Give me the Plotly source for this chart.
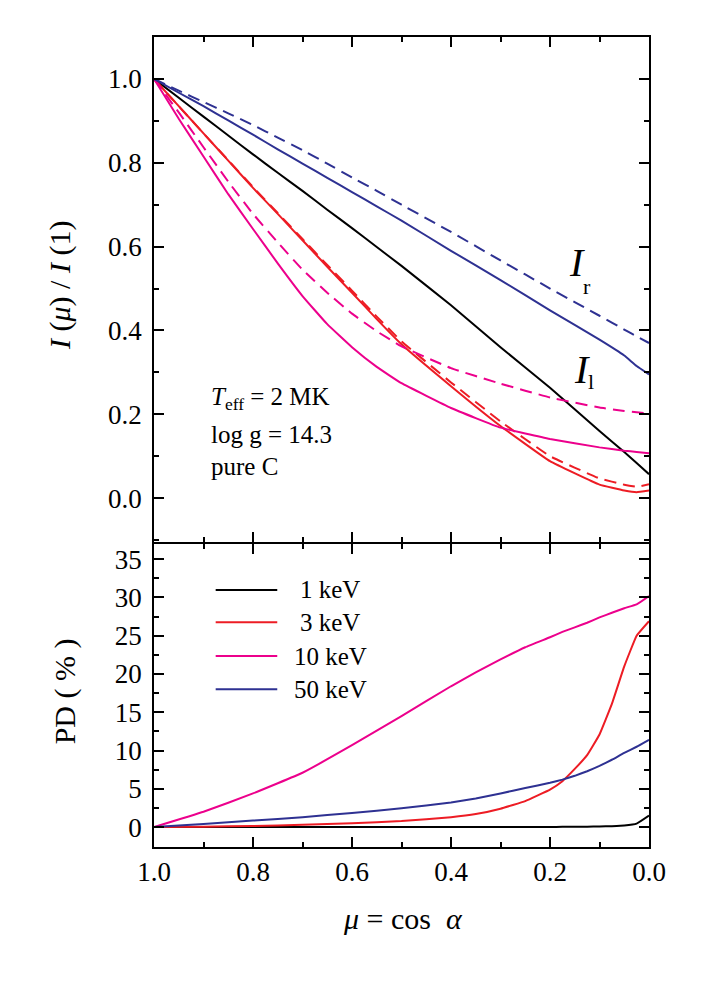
import plotly.graph_objects as go

# ---------------- data ----------------
mu_top = [1.0, 0.95, 0.9, 0.85, 0.8, 0.75, 0.7, 0.65, 0.6, 0.55, 0.5, 0.4, 0.3, 0.2, 0.1, 0.05, 0.025, 0.0]

I_1keV = [1.0, 0.955, 0.91, 0.865, 0.82, 0.776, 0.733, 0.688, 0.644, 0.599, 0.554, 0.46, 0.36, 0.263, 0.16, 0.11, 0.084, 0.057]
Il_3keV = [1.0, 0.935, 0.87, 0.805, 0.74, 0.678, 0.615, 0.552, 0.49, 0.427, 0.367, 0.267, 0.172, 0.088, 0.032, 0.018, 0.014, 0.018]
Ir_3keV = [1.0, 0.935, 0.87, 0.806, 0.742, 0.68, 0.618, 0.556, 0.495, 0.433, 0.374, 0.276, 0.183, 0.10, 0.047, 0.032, 0.027, 0.033]
Il_10keV = [1.0, 0.905, 0.815, 0.725, 0.642, 0.56, 0.482, 0.415, 0.36, 0.313, 0.274, 0.215, 0.168, 0.141, 0.121, 0.113, 0.11, 0.107]
Ir_10keV = [1.0, 0.92, 0.837, 0.755, 0.678, 0.61, 0.545, 0.49, 0.44, 0.398, 0.362, 0.31, 0.273, 0.24, 0.216, 0.208, 0.205, 0.202]
Il_50keV = [1.0, 0.967, 0.935, 0.901, 0.867, 0.832, 0.798, 0.764, 0.73, 0.696, 0.662, 0.59, 0.52, 0.448, 0.378, 0.34, 0.315, 0.295]
Ir_50keV = [1.0, 0.972, 0.945, 0.918, 0.89, 0.86, 0.83, 0.798, 0.765, 0.733, 0.70, 0.635, 0.567, 0.50, 0.435, 0.402, 0.386, 0.37]

mu_pd = [1.0, 0.9, 0.8, 0.7, 0.6, 0.5, 0.4, 0.35, 0.3, 0.25, 0.2, 0.175, 0.15, 0.125, 0.1, 0.075, 0.05, 0.025, 0.0]
PD_1keV = [0, 0, 0, 0, 0, 0, 0, 0, 0.01, 0.01, 0.02, 0.03, 0.04, 0.06, 0.08, 0.12, 0.2, 0.45, 1.5]
PD_3keV = [0, 0.05, 0.15, 0.3, 0.5, 0.8, 1.3, 1.7, 2.4, 3.4, 4.9, 6.0, 7.6, 9.4, 12.1, 16.1, 21.0, 25.0, 26.9]
PD_10keV = [0, 2.0, 4.4, 7.1, 10.7, 14.5, 18.4, 20.2, 21.9, 23.5, 24.8, 25.5, 26.1, 26.7, 27.4, 28.0, 28.6, 29.1, 30.2]
PD_50keV = [0, 0.4, 0.85, 1.3, 1.85, 2.45, 3.2, 3.75, 4.4, 5.1, 5.8, 6.2, 6.7, 7.3, 8.0, 8.8, 9.7, 10.5, 11.4]

energies = ["1 keV", "3 keV", "10 keV", "50 keV"]
colors = ["#000000", "#ED1C24", "#EC008C", "#2E3192"]

FONT = "Liberation Serif, Times New Roman, serif"
LW = 2.0
DASH = "12px,7px"

fig = go.Figure()

# top panel curves (x2, y2)
top_series = [
    (I_1keV, colors[0], "solid"),
    (Ir_3keV, colors[1], DASH),
    (Il_3keV, colors[1], "solid"),
    (Ir_10keV, colors[2], DASH),
    (Il_10keV, colors[2], "solid"),
    (Ir_50keV, colors[3], DASH),
    (Il_50keV, colors[3], "solid"),
]
for ys, c, d in top_series:
    fig.add_trace(go.Scatter(x=mu_top, y=ys, mode="lines", xaxis="x2", yaxis="y2",
                             line=dict(color=c, width=LW, dash=d, shape="spline", smoothing=0.3),
                             showlegend=False, hoverinfo="skip"))

# bottom panel curves
for ys, c in zip([PD_1keV, PD_3keV, PD_10keV, PD_50keV], colors):
    fig.add_trace(go.Scatter(x=mu_pd, y=ys, mode="lines", xaxis="x", yaxis="y",
                             line=dict(color=c, width=LW, shape="spline", smoothing=0.3),
                             showlegend=False, hoverinfo="skip"))

axis_common = dict(showline=True, linecolor="black", linewidth=1.8, mirror="allticks",
                   ticks="inside", ticklen=10, tickwidth=2, tickcolor="black",
                   showgrid=False, zeroline=False, tickmode="linear",
                   tickfont=dict(family=FONT, size=27, color="black"))

def minor(dt):
    return dict(ticks="inside", ticklen=5, tickwidth=2, tickcolor="black", dtick=dt, tick0=0, showgrid=False)

H_PLOT = 810.0
split = 0.3753
half = 0.9 / H_PLOT
fig.update_layout(
    width=698, height=973,
    margin=dict(l=146, r=57, t=29, b=134),
    plot_bgcolor="white", paper_bgcolor="white",
    xaxis=dict(domain=[0, 1], anchor="y", range=[1, 0], tick0=0, dtick=0.2, tickformat=".1f",
               minor=minor(0.1), **axis_common),
    xaxis2=dict(domain=[0, 1], anchor="y2", range=[1, 0], matches="x", tick0=0, dtick=0.2,
                showticklabels=False, minor=minor(0.1), **axis_common),
    yaxis=dict(domain=[0, split - half], anchor="x", range=[-2.6, 37], tick0=0, dtick=5,
               ticklabelstandoff=5, minor=minor(2.5), **axis_common),
    yaxis2=dict(domain=[split + half, 1], anchor="x2", range=[-0.105, 1.1], tick0=0, dtick=0.2,
                tickformat=".1f", ticklabelstandoff=5, minor=minor(0.1), **axis_common),
    showlegend=False,
)

ann = []
def A(**kw):
    base = dict(showarrow=False, font=dict(family=FONT, size=25, color="black"))
    base.update(kw)
    ann.append(base)

# axis titles
A(text="<i>μ</i> = cos  <i>α</i>", xref="paper", yref="paper", x=0.503, y=-0.0877,
  xanchor="center", yanchor="middle", font=dict(family=FONT, size=30, color="black"))
A(text="<i>I</i> (<i>μ</i>) / <i>I</i> (1)", xref="paper", yref="paper", x=-0.19, y=0.6938,
  xanchor="center", yanchor="middle", textangle=-90, font=dict(family=FONT, size=30, color="black"))
A(text="PD ( % )", xref="paper", yref="paper", x=-0.178, y=0.192,
  xanchor="center", yanchor="middle", textangle=-90, font=dict(family=FONT, size=30, color="black"))

# parameter block
A(text="<i>T</i><sub>eff</sub> = 2 MK", xref="x2", yref="y2", x=0.889, y=0.238, xanchor="left", yanchor="middle")
A(text="log g = 14.3", xref="x2", yref="y2", x=0.889, y=0.152, xanchor="left", yanchor="middle")
A(text="pure C", xref="x2", yref="y2", x=0.889, y=0.075, xanchor="left", yanchor="middle")

# I_r / I_l labels
A(text="<i>I</i>", xref="x2", yref="y2", x=0.1445, y=0.562, xanchor="center", yanchor="middle",
  font=dict(family=FONT, size=40, color="black"))
A(text="r", xref="x2", yref="y2", x=0.126, y=0.505, xanchor="center", yanchor="middle",
  font=dict(family=FONT, size=22, color="black"))
A(text="<i>I</i>", xref="x2", yref="y2", x=0.135, y=0.307, xanchor="center", yanchor="middle",
  font=dict(family=FONT, size=40, color="black"))
A(text="l", xref="x2", yref="y2", x=0.118, y=0.279, xanchor="center", yanchor="middle",
  font=dict(family=FONT, size=22, color="black"))

# legend (manual)
leg_y = [0.3173, 0.2774, 0.2358, 0.1947]
shapes = []
for name, c, yy in zip(energies, colors, leg_y):
    shapes.append(dict(type="line", xref="paper", yref="paper", x0=0.1246, x1=0.249, y0=yy, y1=yy,
                       line=dict(color=c, width=LW)))
    A(text=name, xref="paper", yref="paper", x=0.3556, y=yy, xanchor="center", yanchor="middle",
      font=dict(family=FONT, size=25, color="black"))

fig.update_layout(annotations=ann, shapes=shapes)
fig.write_html("out.html")
